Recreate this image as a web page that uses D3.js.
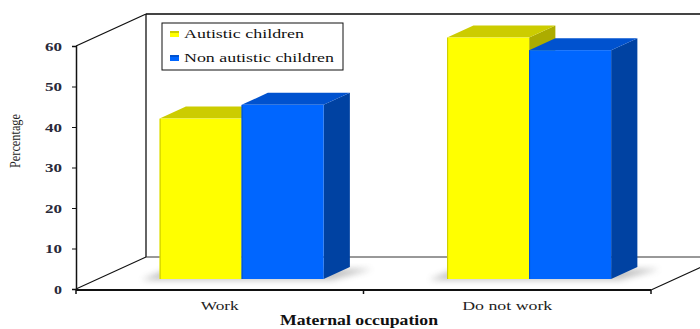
<!DOCTYPE html>
<html>
<head>
<meta charset="utf-8">
<script src="https://cdn.jsdelivr.net/npm/d3@7"></script>
<style>
  html, body { margin: 0; padding: 0; background: #fff; }
  svg { display: block; }
  text { font-family: "Liberation Serif", "DejaVu Serif", serif; }
</style>
</head>
<body>
<svg id="chart" width="700" height="329"></svg>
<script>
// data
const categories = ['Work', 'Do not work']
const seriesNames = ['Autistic children', 'Non autistic children']
const autistic = [39.6, 59.6]
const nonAutistic = [43, 56.5]
const yTicks = [0, 10, 20, 30, 40, 50, 60]

const seriesValues = [autistic, nonAutistic]
const colors = [
  { front: '#ffff00', top: '#cccc00', side: '#acac00', edge: '#c8c800' },
  { front: '#0066ff', top: '#0052cf', side: '#0042a2', edge: '#0050d0' }
]

const svg = d3.select('#chart')

// oblique 3D layout
const wall = { dx: 70, dy: -32 } // depth offset of back wall
const barFront = 0.3125 // depth fraction of bar front face
const barBack = 0.6875 // depth fraction of bar back face
const left = 76
const right = 651
const bottom = 289

const x = d3.scaleBand().domain(categories).range([left, right])
const y = d3.scaleLinear().domain([0, 60]).range([bottom, 46])
const barW = 82
const xs = d3.scaleBand().domain(d3.range(seriesNames.length)).range([0, barW * seriesNames.length])

const defs = svg.append('defs')
defs.append('filter')
  .attr('id', 'shadow')
  .attr('x', '-50%').attr('y', '-50%').attr('width', '200%').attr('height', '200%')
  .append('feGaussianBlur')
  .attr('stdDeviation', 3)

// walls and floor
const g = svg.append('g')
const wx = left + wall.dx
const wTop = y(60) + wall.dy
const wBot = bottom + wall.dy

g.append('line') // top edge of back wall
  .attr('x1', wx).attr('x2', right + wall.dx)
  .attr('y1', wTop).attr('y2', wTop)
  .attr('stroke', '#444').attr('stroke-width', 2)
g.append('line') // back wall left edge
  .attr('x1', wx).attr('x2', wx)
  .attr('y1', wTop).attr('y2', wBot)
  .attr('stroke', '#111').attr('stroke-width', 1.3)
g.append('line') // back floor edge
  .attr('x1', wx).attr('x2', right + wall.dx)
  .attr('y1', wBot).attr('y2', wBot)
  .attr('stroke', '#333').attr('stroke-width', 1)
g.append('line') // side wall top diagonal
  .attr('x1', left).attr('y1', y(60))
  .attr('x2', wx).attr('y2', wTop)
  .attr('stroke', '#111').attr('stroke-width', 1.3)
g.append('line') // floor left diagonal
  .attr('x1', left).attr('y1', bottom)
  .attr('x2', wx).attr('y2', wBot)
  .attr('stroke', '#111').attr('stroke-width', 1.2)
g.append('line') // floor right diagonal
  .attr('x1', right).attr('y1', bottom + 1)
  .attr('x2', right + wall.dx).attr('y2', wBot + 1)
  .attr('stroke', '#111').attr('stroke-width', 1.2)

// bars
const fdx = wall.dx * barFront, fdy = wall.dy * barFront
const bdx = wall.dx * (barBack - barFront), bdy = wall.dy * (barBack - barFront)

const groups = g.selectAll('.cat')
  .data(categories)
  .enter()
  .append('g')
  .attr('class', 'cat')
  .attr('transform', d => `translate(${x(d) + x.bandwidth() / 2 - barW + fdx}, ${fdy})`)

// floor shadows
groups.append('path')
  .attr('d', () => {
    const x0 = -18, x1 = barW * 2 + 8
    const y0 = bottom + 1, y1 = bottom + bdy + 2
    return `M${x0},${y0}L${x1},${y0}L${x1 + bdx + 14},${y1}L${x0 + bdx},${y1}Z`
  })
  .attr('fill', '#777')
  .attr('opacity', 0.45)
  .attr('filter', 'url(#shadow)')

groups.each(function(cat, ci) {
  const grp = d3.select(this)
  seriesValues.forEach((vals, si) => {
    const x0 = xs(si)
    const x1 = x0 + xs.bandwidth()
    const yt = y(vals[ci])
    const c = colors[si]
    // side face
    grp.append('path')
      .attr('d', `M${x1},${yt}L${x1 + bdx},${yt + bdy}L${x1 + bdx},${bottom + bdy}L${x1},${bottom}Z`)
      .attr('fill', c.side)
    // top face
    grp.append('path')
      .attr('d', `M${x0},${yt}L${x0 + bdx},${yt + bdy}L${x1 + bdx},${yt + bdy}L${x1},${yt}Z`)
      .attr('fill', c.top)
    // front face
    grp.append('rect')
      .attr('x', x0).attr('y', yt)
      .attr('width', x1 - x0).attr('height', bottom - yt)
      .attr('fill', c.front)
    grp.append('line')
      .attr('x1', x0 + 0.5).attr('x2', x0 + 0.5)
      .attr('y1', yt).attr('y2', bottom)
      .attr('stroke', c.edge).attr('stroke-width', 1)
  })
})

// front axes
const yAxis = svg.append('g').attr('transform', `translate(${left},0)`)
  .call(d3.axisLeft(y).tickValues(yTicks).tickSize(4).tickPadding(10).tickFormat(d3.format('d')))
yAxis.select('.domain').attr('stroke', '#111').attr('stroke-width', 1.5)
yAxis.selectAll('.tick line').attr('stroke', '#111')
yAxis.selectAll('.tick text')
  .attr('font-size', 13)
  .attr('fill', '#2a2a3a')
  .attr('font-weight', 'bold')
  .attr('font-family', '"Liberation Serif", serif')
  .attr('textLength', d => d < 10 ? 8 : 17)
  .attr('lengthAdjust', 'spacingAndGlyphs')

const xAxis = svg.append('g').attr('transform', `translate(0,${bottom + 1})`)
xAxis.append('line')
  .attr('x1', left).attr('x2', right)
  .attr('stroke', '#111').attr('stroke-width', 2)
xAxis.selectAll('.tk')
  .data([left, x(categories[1]), right])
  .enter()
  .append('line')
  .attr('x1', d => d).attr('x2', d => d)
  .attr('y1', 0).attr('y2', 4)
  .attr('stroke', '#111').attr('stroke-width', 1.5)
xAxis.selectAll('.lbl')
  .data(categories)
  .enter()
  .append('text')
  .attr('x', d => x(d) + x.bandwidth() / 2)
  .attr('y', 20)
  .attr('text-anchor', 'middle')
  .attr('font-size', 13)
  .attr('fill', '#222')
  .attr('textLength', d => d === 'Work' ? 38 : 90)
  .attr('lengthAdjust', 'spacingAndGlyphs')
  .text(d => d)

// axis titles
svg.append('text')
  .attr('x', 359).attr('y', 325)
  .attr('text-anchor', 'middle')
  .attr('font-size', 14)
  .attr('font-weight', 'bold')
  .attr('fill', '#111')
  .attr('textLength', 158)
  .attr('lengthAdjust', 'spacingAndGlyphs')
  .text('Maternal occupation')

svg.append('text')
  .attr('transform', 'translate(20,141) rotate(-90)')
  .attr('text-anchor', 'middle')
  .attr('font-size', 14)
  .attr('fill', '#222')
  .attr('textLength', 54)
  .attr('lengthAdjust', 'spacingAndGlyphs')
  .text('Percentage')

// legend
const legend = svg.append('g').attr('transform', 'translate(162,23)')
legend.append('rect')
  .attr('width', 181).attr('height', 47)
  .attr('fill', '#fff').attr('stroke', '#111').attr('stroke-width', 1)
const items = legend.selectAll('.item')
  .data(seriesNames)
  .enter()
  .append('g')
  .attr('transform', (d, i) => `translate(0,${i * 24})`)
items.append('rect')
  .attr('x', 8).attr('y', 8)
  .attr('width', 9).attr('height', 6)
  .attr('fill', (d, i) => colors[i].front)
items.append('rect')
  .attr('x', 8).attr('y', 8)
  .attr('width', 9).attr('height', 2)
  .attr('fill', (d, i) => colors[i].top)
items.append('text')
  .attr('x', 22).attr('y', 15)
  .attr('font-size', 13)
  .attr('fill', '#111')
  .attr('textLength', (d, i) => i === 0 ? 120 : 150)
  .attr('lengthAdjust', 'spacingAndGlyphs')
  .text(d => d)
</script>
</body>
</html>
